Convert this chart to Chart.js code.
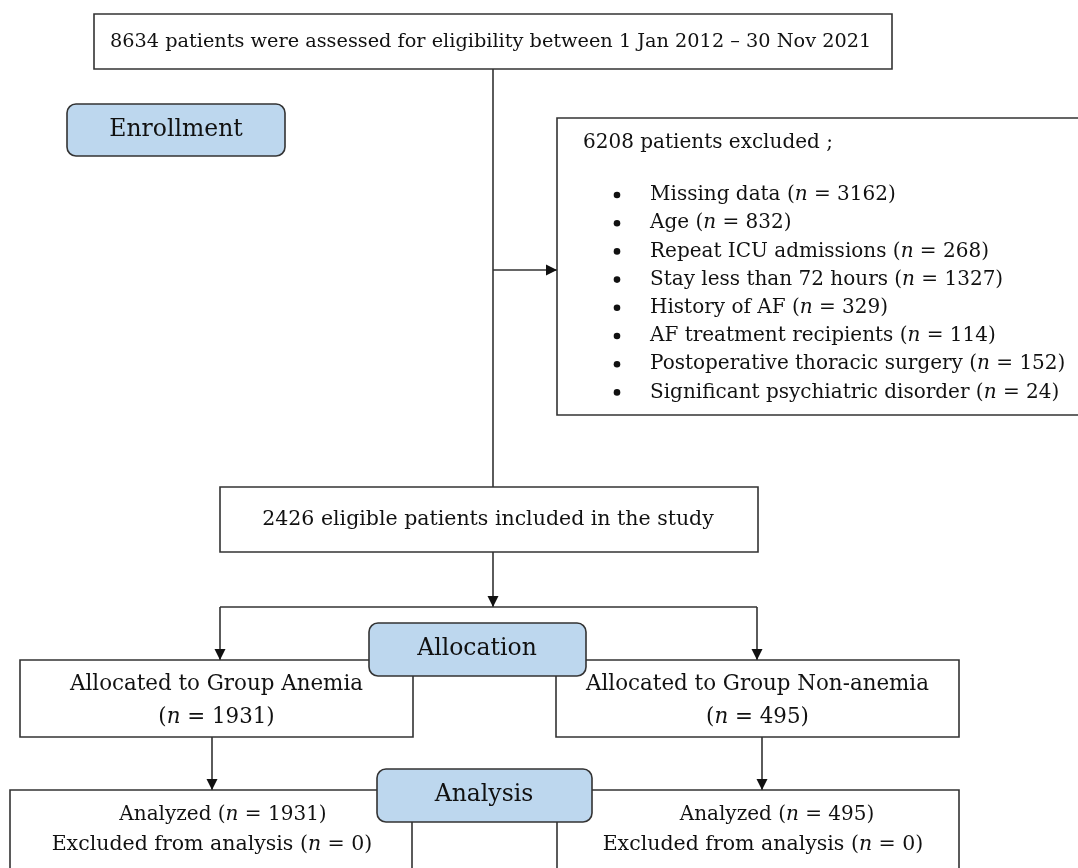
<!DOCTYPE html>
<html lang="en">

<head>
    <meta charset="UTF-8">
    <title>Patient flow</title>
    <style>
        body {
            margin: 0;
            background: #fff;
        }

        #flowChart {
            display: block;
        }
    </style>
</head>

<body>
    <canvas id="flowChart" width="1078" height="868"></canvas>

    <script src="https://cdn.jsdelivr.net/npm/chart.js"></script>
    <script>
        // numbers
        const assessedTotal = 8634;
        const studyPeriod = '1 Jan 2012 \u2013 30 Nov 2021';
        const excludedTotal = 6208;
        const exclusionReasons = ['Missing data', 'Age', 'Repeat ICU admissions', 'Stay less than 72 hours',
            'History of AF', 'AF treatment recipients', 'Postoperative thoracic surgery', 'Significant psychiatric disorder'];
        const exclusionCounts = [3162, 832, 268, 1327, 329, 114, 152, 24];
        const eligibleTotal = 2426;
        const groupNames = ['Anemia', 'Non-anemia'];
        const allocatedCounts = [1931, 495];
        const analyzedCounts = [1931, 495];
        const droppedCounts = [0, 0];
        const stageLabels = ['Enrollment', 'Allocation', 'Analysis'];

        // layout of the boxes, in the 1078 x 868 frame of the picture
        const layout = {
            top: [94, 14, 892, 69],
            enroll: [67, 104, 285, 156],
            excl: [557, 118, 1090, 415],
            eligible: [220, 487, 758, 552],
            alloc: [369, 623, 586, 676],
            groupBox: [[20, 660, 413, 737], [556, 660, 959, 737]],
            analysis: [377, 769, 592, 822],
            resultBox: [[10, 790, 412, 900], [557, 790, 959, 900]]
        };

        const FONT = '"DejaVu Serif", "Liberation Serif", serif';
        const FS = 20;
        const LINE = '#333333';
        const BLUE = '#bdd7ee';

        function nCount(prefix, count) {
            return [{ t: prefix + '(' }, { t: 'n', i: true }, { t: ' = ' + count + ')' }];
        }

        function drawRich(ctx, segs, x, y, align, size) {
            size = size || FS;
            let w = 0;
            segs.forEach(function (s) {
                ctx.font = (s.i ? 'italic ' : '') + size + 'px ' + FONT;
                w += ctx.measureText(s.t).width;
            });
            let cx = align == 'center' ? x - w / 2 : x;
            ctx.textAlign = 'left';
            ctx.textBaseline = 'middle';
            segs.forEach(function (s) {
                ctx.font = (s.i ? 'italic ' : '') + size + 'px ' + FONT;
                ctx.fillText(s.t, cx, y);
                cx += ctx.measureText(s.t).width;
            });
        }

        const flowPlugin = {
            id: 'flow',
            afterDraw: function (chart) {
                const ctx = chart.ctx;
                const sx = chart.scales.x, sy = chart.scales.y;
                const X = function (v) { return sx.getPixelForValue(v); };
                const Y = function (v) { return sy.getPixelForValue(v); };

                function rect(b, fill, radius) {
                    const x = X(b[0]), y = Y(b[1]), w = X(b[2]) - x, h = Y(b[3]) - y;
                    ctx.beginPath();
                    if (radius) ctx.roundRect(x, y, w, h, radius);
                    else ctx.rect(x, y, w, h);
                    ctx.fillStyle = fill;
                    ctx.fill();
                    ctx.lineWidth = 1.6;
                    ctx.strokeStyle = LINE;
                    ctx.stroke();
                }
                function line(x1, y1, x2, y2) {
                    ctx.beginPath();
                    ctx.moveTo(X(x1), Y(y1));
                    ctx.lineTo(X(x2), Y(y2));
                    ctx.lineWidth = 1.6;
                    ctx.strokeStyle = LINE;
                    ctx.stroke();
                }
                function arrow(x1, y1, x2, y2) {
                    line(x1, y1, x2, y2);
                    const a = Math.atan2(Y(y2) - Y(y1), X(x2) - X(x1));
                    const tx = X(x2), ty = Y(y2);
                    ctx.beginPath();
                    ctx.moveTo(tx, ty);
                    ctx.lineTo(tx - 11 * Math.cos(a) + 5.5 * Math.sin(a), ty - 11 * Math.sin(a) - 5.5 * Math.cos(a));
                    ctx.lineTo(tx - 11 * Math.cos(a) - 5.5 * Math.sin(a), ty - 11 * Math.sin(a) + 5.5 * Math.cos(a));
                    ctx.closePath();
                    ctx.fillStyle = '#111';
                    ctx.fill();
                }

                ctx.save();

                // connectors
                line(493, 69, 493, 487);
                arrow(493, 270, 557, 270);
                arrow(493, 552, 493, 607);
                line(220, 607, 757, 607);
                arrow(220, 607, 220, 660);
                arrow(757, 607, 757, 660);
                arrow(212, 737, 212, 790);
                arrow(762, 737, 762, 790);

                // plain boxes
                rect(layout.top, '#fff');
                rect(layout.excl, '#fff');
                rect(layout.eligible, '#fff');
                layout.groupBox.forEach(function (b) { rect(b, '#fff'); });
                layout.resultBox.forEach(function (b) { rect(b, '#fff'); });

                // stage labels
                rect(layout.enroll, BLUE, 9);
                rect(layout.alloc, BLUE, 9);
                rect(layout.analysis, BLUE, 9);

                ctx.fillStyle = '#111';
                drawRich(ctx, [{ t: assessedTotal + ' patients were assessed for eligibility between ' + studyPeriod }], X(110), Y(42), 'left', 19.3);
                drawRich(ctx, [{ t: stageLabels[0] }], X(176), Y(130), 'center', 23.5);
                drawRich(ctx, [{ t: stageLabels[1] }], X(477), Y(649), 'center', 23.5);
                drawRich(ctx, [{ t: stageLabels[2] }], X(484), Y(795), 'center', 23.5);

                drawRich(ctx, [{ t: excludedTotal + ' patients excluded ;' }], X(583), Y(143), 'left');
                exclusionReasons.forEach(function (r, i) {
                    const yy = Y(195 + i * 28.2);
                    ctx.beginPath();
                    ctx.arc(X(617), yy, 3.3, 0, Math.PI * 2);
                    ctx.fill();
                    drawRich(ctx, nCount(r + ' ', exclusionCounts[i]), X(650), yy, 'left');
                });

                drawRich(ctx, [{ t: eligibleTotal + ' eligible patients included in the study' }], X(488), Y(520), 'center', 20.5);

                const shiftAnalyzed = [12, 19], shiftDropped = [1, 5];
                groupNames.forEach(function (g, i) {
                    const b = layout.groupBox[i];
                    const cx = X((b[0] + b[2]) / 2);
                    drawRich(ctx, [{ t: 'Allocated to Group ' + g }], cx, Y(684), 'center', 21.4);
                    drawRich(ctx, nCount('', allocatedCounts[i]), cx, Y(717), 'center', 21.4);
                    const r = layout.resultBox[i];
                    const rx = X((r[0] + r[2]) / 2);
                    drawRich(ctx, nCount('Analyzed ', analyzedCounts[i]), rx + shiftAnalyzed[i], Y(815), 'center');
                    drawRich(ctx, nCount('Excluded from analysis ', droppedCounts[i]), rx + shiftDropped[i], Y(845), 'center', 20.5);
                });
                ctx.restore();
            }
        };

        const flowChart = new Chart(document.getElementById('flowChart'), {
            type: 'scatter',
            data: { datasets: [{ data: [] }] },
            options: {
                responsive: false,
                animation: false,
                layout: { padding: 0 },
                plugins: { legend: { display: false }, tooltip: { enabled: false } },
                scales: {
                    x: { type: 'linear', min: 0, max: 1078, display: false },
                    y: { type: 'linear', min: 0, max: 868, reverse: true, display: false }
                }
            },
            plugins: [flowPlugin]
        });
    </script>
</body>

</html>
